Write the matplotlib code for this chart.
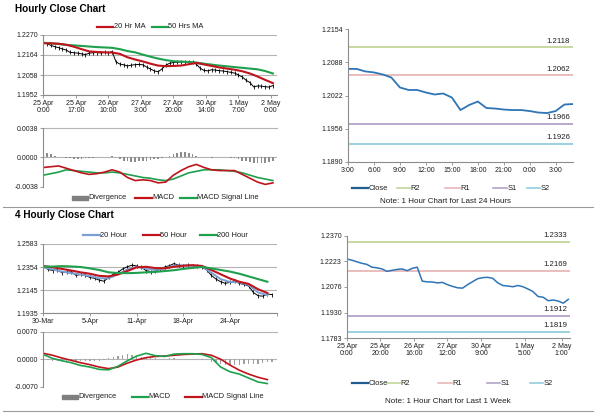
import numpy as np
import matplotlib
matplotlib.use("Agg")
import matplotlib.pyplot as plt
from matplotlib.lines import Line2D
from matplotlib.patches import Rectangle

W, H = 600, 413
plt.rcParams["font.family"] = ["Liberation Sans", "DejaVu Sans"]

RED = "#c0141c"
GREEN = "#1ea04e"
BLUE_MA = "#7b9fd3"
CLOSE_BLUE = "#2e75b6"
LEVEL_COLORS = {"R2": "#c3d69b", "R1": "#e6b9b8", "S1": "#b3a2c7", "S2": "#93cddd"}
AXIS_GRAY = "#8c8c8c"
GRID_GRAY = "#b4b4b4"
TXT = "#1e1e1e"
TICK_FS = 5.0
LEG_FS = 5.4

# ---------------- hourly close chart (top-left) ----------------
H_X_LABELS = ["25 Apr\n0:00", "25 Apr\n17:00", "26 Apr\n10:00", "27 Apr\n3:00",
              "27 Apr\n20:00", "30 Apr\n14:00", "1 May\n7:00", "2 May\n0:00"]
H_Y_LABELS = ["1.1952", "1.2058", "1.2164", "1.2270"]
h_close = [1.2229, 1.2224, 1.2215, 1.2208, 1.2203, 1.2196, 1.2190, 1.2178, 1.2176, 1.2174,
           1.2170, 1.2166, 1.2174, 1.2176, 1.2177, 1.2175, 1.2178, 1.2176, 1.2182, 1.2128,
           1.2116, 1.2112, 1.2106, 1.2110, 1.2113, 1.2114, 1.2112, 1.2100, 1.2090, 1.2080,
           1.2075, 1.2090, 1.2110, 1.2120, 1.2124, 1.2126, 1.2127, 1.2128, 1.2129, 1.2126,
           1.2115, 1.2094, 1.2082, 1.2080, 1.2086, 1.2084, 1.2081, 1.2079, 1.2076, 1.2072,
           1.2068, 1.2058, 1.2048, 1.2030, 1.2018, 1.1995, 1.2000, 1.1999, 1.1996, 1.1994,
           1.2002]
h_ma20 = [1.2226, 1.2226, 1.2224, 1.2218, 1.2208, 1.2195, 1.2183, 1.2180, 1.2178, 1.2177,
          1.2170, 1.2152, 1.2140, 1.2130, 1.2118, 1.2108, 1.2105, 1.2106, 1.2108, 1.2115,
          1.2122, 1.2114, 1.2106, 1.2098, 1.2092, 1.2086, 1.2078, 1.2066, 1.2050, 1.2032,
          1.2015]
h_ma50 = [1.2229, 1.2226, 1.2222, 1.2218, 1.2215, 1.2212, 1.2209, 1.2206, 1.2204, 1.2202,
          1.2195, 1.2185, 1.2178, 1.2166, 1.2155, 1.2145, 1.2137, 1.2131, 1.2129, 1.2127,
          1.2124, 1.2118, 1.2113, 1.2108, 1.2104, 1.2100, 1.2096, 1.2092, 1.2088, 1.2079,
          1.2066]
h_macd = [-0.0013, -0.0012, -0.0011, -0.0014, -0.0017, -0.0020, -0.0022, -0.0021, -0.0019, -0.0016,
          -0.0019, -0.0026, -0.0030, -0.0029, -0.0030, -0.0033, -0.0032, -0.0023, -0.0017, -0.0012,
          -0.0009, -0.0013, -0.0016, -0.0017, -0.0017, -0.0017, -0.0022, -0.0027, -0.0032, -0.0035,
          -0.0033]
h_signal = [-0.0023, -0.0021, -0.0019, -0.0016, -0.0017, -0.0018, -0.0019, -0.0020, -0.0020, -0.0019,
            -0.0020, -0.0022, -0.0024, -0.0026, -0.0027, -0.0029, -0.0030, -0.0028, -0.0024, -0.0020,
            -0.0018, -0.0016, -0.0016, -0.0016, -0.0017, -0.0018, -0.0020, -0.0023, -0.0026, -0.0028,
            -0.0030]
h_div = [0.0006, 0.0006, 0.0004, 0.0002, 0.0001, 0.0000, -0.0001, -0.0001, -0.0002, -0.0002,
         -0.0002, -0.0001, -0.0001, -0.0001, 0.0000, 0.0000, 0.0000, 0.0001, 0.0002, 0.0001,
         -0.0002, -0.0004, -0.0005, -0.0006, -0.0006, -0.0005, -0.0005, -0.0004, -0.0003, -0.0002,
         -0.0002, -0.0001, 0.0000, 0.0002, 0.0004, 0.0006, 0.0007, 0.0007, 0.0006, 0.0004,
         0.0002, 0.0001, 0.0000, 0.0000, -0.0001, 0.0000, 0.0000, 0.0000, 0.0000, -0.0001,
         -0.0001, -0.0002, -0.0004, -0.0005, -0.0006, -0.0007, -0.0007, -0.0007, -0.0007, -0.0006,
         -0.0004]

# ---------------- 4 hourly close chart (bottom-left) ----------------
F_X_LABELS = ["30-Mar", "5-Apr", "11-Apr", "18-Apr", "24-Apr", ""]
F_Y_LABELS = ["1.1935", "1.2145", "1.2354", "1.2583"]
f_close = [1.2380, 1.2345, 1.2335, 1.2340, 1.2315, 1.2320, 1.2322, 1.2290, 1.2298, 1.2290,
           1.2270, 1.2262, 1.2245, 1.2235, 1.2270, 1.2300, 1.2318, 1.2350, 1.2370, 1.2385,
           1.2378, 1.2365, 1.2335, 1.2325, 1.2330, 1.2346, 1.2368, 1.2380, 1.2400, 1.2385,
           1.2380, 1.2385, 1.2380, 1.2378, 1.2370, 1.2340, 1.2290, 1.2255, 1.2230, 1.2215,
           1.2225, 1.2240, 1.2215, 1.2205, 1.2190, 1.2130, 1.2100, 1.2095, 1.2115, 1.2110]
f_ma20 = [1.2365, 1.2345, 1.2325, 1.2310, 1.2298, 1.2283, 1.2262, 1.2262, 1.2300, 1.2345,
          1.2370, 1.2355, 1.2340, 1.2355, 1.2380, 1.2383, 1.2380, 1.2370, 1.2315, 1.2255,
          1.2228, 1.2225, 1.2200, 1.2130, 1.2105]
f_ma50 = [1.2377, 1.2365, 1.2350, 1.2335, 1.2318, 1.2305, 1.2285, 1.2280, 1.2298, 1.2330,
          1.2365, 1.2370, 1.2358, 1.2355, 1.2370, 1.2380, 1.2385, 1.2378, 1.2340, 1.2300,
          1.2260, 1.2230, 1.2210, 1.2160, 1.2125]
f_ma200 = [1.2370, 1.2372, 1.2376, 1.2373, 1.2368, 1.2355, 1.2340, 1.2318, 1.2312, 1.2310,
           1.2313, 1.2318, 1.2322, 1.2330, 1.2338, 1.2350, 1.2360, 1.2368, 1.2355, 1.2340,
           1.2325, 1.2305, 1.2280, 1.2255, 1.2230]
f_macd = [0.0012, 0.0002, -0.0004, -0.0009, -0.0016, -0.0020, -0.0026, -0.0027, -0.0018, -0.0004,
          0.0008, 0.0015, 0.0009, 0.0007, 0.0013, 0.0014, 0.0014, 0.0012, 0.0004, -0.0020,
          -0.0032, -0.0038, -0.0048, -0.0058, -0.0062]
f_signal = [0.0015, 0.0010, 0.0003, -0.0003, -0.0009, -0.0014, -0.0020, -0.0024, -0.0020, -0.0010,
            -0.0002, 0.0004, 0.0007, 0.0008, 0.0010, 0.0012, 0.0013, 0.0014, 0.0010, 0.0000,
            -0.0015, -0.0028, -0.0038, -0.0046, -0.0052]
f_div = [-0.0002, -0.0003, -0.0004, -0.0004, -0.0004, -0.0004, -0.0004, -0.0005, -0.0005, -0.0005,
         -0.0005, -0.0005, -0.0004, -0.0002, 0.0002, 0.0005, 0.0008, 0.0011, 0.0012, 0.0011,
         0.0009, 0.0006, 0.0004, 0.0003, 0.0002, 0.0001, 0.0001, 0.0002, 0.0002, 0.0001,
         0.0001, 0.0001, 0.0001, 0.0000, -0.0001, -0.0003, -0.0006, -0.0009, -0.0012, -0.0014,
         -0.0015, -0.0015, -0.0014, -0.0013, -0.0012, -0.0012, -0.0011, -0.0010, -0.0008, -0.0006]

# ---------------- 24 hour pivot chart (top-right) ----------------
D_X_LABELS = ["3:00", "6:00", "9:00", "12:00", "15:00", "18:00", "21:00", "0:00", "3:00"]
D_Y_LABELS = ["1.1890", "1.1956", "1.2022", "1.2088", "1.2154"]
d_close = [1.2075, 1.2075, 1.2070, 1.2068, 1.2064, 1.2058, 1.2038, 1.2033, 1.2033, 1.2028,
           1.2024, 1.2026, 1.2018, 1.1993, 1.2003, 1.2010, 1.1997, 1.1996, 1.1994, 1.1993,
           1.1993, 1.1991, 1.1988, 1.1987, 1.1991, 1.2004, 1.2005]
d_levels = {"R2": 1.2118, "R1": 1.2062, "S1": 1.1966, "S2": 1.1926}

# ---------------- 1 week pivot chart (bottom-right) ----------------
WK_X_TICKS = [0, 20, 40, 60, 80, 106, 128]
WK_X_LABELS = ["25 Apr\n0:00", "25 Apr\n20:00", "26 Apr\n16:00", "27 Apr\n12:00",
               "30 Apr\n9:00", "1 May\n5:00", "2 May\n1:00"]
WK_Y_LABELS = ["1.1783", "1.1930", "1.2076", "1.2223", "1.2370"]
wk_close = [1.2237, 1.2230, 1.2221, 1.2212, 1.2206, 1.2190, 1.2186, 1.2180, 1.2166, 1.2172,
            1.2177, 1.2180, 1.2170, 1.2183, 1.2190, 1.2110, 1.2106, 1.2105, 1.2100, 1.2103,
            1.2090, 1.2080, 1.2072, 1.2070, 1.2090, 1.2107, 1.2124, 1.2130, 1.2132, 1.2126,
            1.2100, 1.2085, 1.2082, 1.2078, 1.2085, 1.2078, 1.2065, 1.2050, 1.2022, 1.2018,
            1.1998, 1.2002, 1.1996, 1.1984, 1.2006]
wk_levels = {"R2": 1.2333, "R1": 1.2169, "S1": 1.1912, "S2": 1.1819}


def px_axes(fig, left, top, right, bottom):
    return fig.add_axes([left / W, 1 - bottom / H, (right - left) / W, (bottom - top) / H])


def base_style(ax, grid=False):
    for s in ["top", "right"]:
        ax.spines[s].set_visible(False)
    for s in ["left", "bottom"]:
        ax.spines[s].set_color(AXIS_GRAY)
        ax.spines[s].set_linewidth(0.8)
    ax.tick_params(labelsize=TICK_FS, labelcolor=TXT, length=2, width=0.6, pad=1.5,
                   color=AXIS_GRAY)
    if grid:
        ax.grid(axis="y", color=GRID_GRAY, lw=0.8)
        ax.set_axisbelow(True)


def leg_line(fig, x0, x1, y, label, color, lw=1.6):
    fig.add_artist(Line2D([x0 / W, x1 / W], [1 - y / H] * 2, color=color, lw=lw,
                          transform=fig.transFigure))
    fig.text((x1 + 0.5) / W, 1 - y / H, label, fontsize=LEG_FS, color=TXT, va="center", ha="left")


def leg_box(fig, x0, x1, y, label, color):
    fig.add_artist(Rectangle((x0 / W, 1 - (y + 2) / H), (x1 - x0) / W, 4 / H, color=color,
                             transform=fig.transFigure))
    fig.text((x1 + 0.5) / W, 1 - y / H, label, fontsize=LEG_FS, color=TXT, va="center", ha="left")


def macd_axes(ax, lim, labels):
    base_style(ax)
    ax.spines["bottom"].set_visible(False)
    ax.set_ylim(-lim, lim)
    ax.set_yticks([-lim, 0, lim])
    ax.set_yticklabels(labels)
    ax.set_xticks([])
    ax.axhline(0, color=GRID_GRAY, lw=0.8, zorder=0)
    ax.axhline(lim, color=GRID_GRAY, lw=0.8, zorder=0, clip_on=False)


def pivot_chart(ax, close, levels, ylo, yhi, ylabels):
    base_style(ax)
    ax.set_ylim(ylo, yhi)
    ax.set_yticks(np.linspace(ylo, yhi, len(ylabels)))
    ax.set_yticklabels(ylabels)
    for name, val in levels.items():
        ax.axhline(val, color=LEVEL_COLORS[name], lw=1.3)
        ax.annotate(f"{val:.4f}", xy=(1, val), xycoords=("axes fraction", "data"),
                    xytext=(-2, 2), textcoords="offset points", ha="right", va="bottom",
                    fontsize=5.6, color=TXT)


fig = plt.figure(figsize=(W / 100, H / 100), dpi=100)

# titles and separators
fig.text(15 / W, 1 - 9 / H, "Hourly Close Chart", fontsize=7.2, fontweight="bold", va="center")
fig.text(15 / W, 1 - 215 / H, "4 Hourly Close Chart", fontsize=7.2, fontweight="bold", va="center")
for ysep in [206.5, 411]:
    fig.add_artist(Line2D([3 / W, 593 / W], [1 - ysep / H] * 2, color="#9a9a9a", lw=0.8,
                          transform=fig.transFigure))

# --- hourly price
ax1 = px_axes(fig, 43.3, 35, 276.7, 95)
base_style(ax1, grid=True)
ax1.set_xlim(0, 122)
ax1.set_ylim(1.1952, 1.2270)
ax1.set_yticks(np.linspace(1.1952, 1.2270, 4))
ax1.set_yticklabels(H_Y_LABELS)
ax1.set_xticks(np.arange(0, 120, 17))
ax1.set_xticklabels(H_X_LABELS, linespacing=1.0)
xc = np.arange(len(h_close)) * 2
ax1.plot(xc, h_close, color="black", lw=0.7, marker="|", ms=2.2, mew=0.6)
xm = np.arange(len(h_ma50)) * 4
ax1.plot(xm, h_ma50, color=GREEN, lw=1.5)
ax1.plot(xm, h_ma20, color=RED, lw=1.5)
leg_line(fig, 96.7, 113.3, 27, "20 Hr MA", RED)
leg_line(fig, 152, 168, 27, "50 Hrs MA", GREEN)

# --- hourly MACD
ax2 = px_axes(fig, 43.3, 128.3, 276.7, 186.7)
macd_axes(ax2, 0.0038, ["-0.0038", "0.0000", "0.0038"])
ax2.set_xlim(0, 122)
ax2.bar(np.arange(len(h_div)) * 2, h_div, width=0.9, color="#8c8c8c")
xm = np.arange(len(h_macd)) * 4
ax2.plot(xm, h_signal, color=GREEN, lw=1.2)
ax2.plot(xm, h_macd, color=RED, lw=1.2)
leg_box(fig, 71.7, 88.3, 197.7, "Divergence", "#7f7f7f")
leg_line(fig, 135, 151.7, 197.7, "MACD", RED)
leg_line(fig, 180, 196.7, 197.7, "MACD Signal Line", GREEN)

# --- 24 hour pivot chart
ax3 = px_axes(fig, 348, 29.3, 573, 161.7)
pivot_chart(ax3, d_close, d_levels, 1.1890, 1.2154, D_Y_LABELS)
ax3.set_xlim(0, len(d_close) - 1)
ax3.set_xticks(np.arange(0, 25, 3))
ax3.set_xticklabels(D_X_LABELS)
ax3.plot(np.arange(len(d_close)), d_close, color=CLOSE_BLUE, lw=1.3)
leg_line(fig, 351.7, 368.3, 188.3, "Close", "#1f5c8f")
leg_line(fig, 396.7, 410, 188.3, "R2", LEVEL_COLORS["R2"], lw=1.2)
leg_line(fig, 445, 460, 188.3, "R1", LEVEL_COLORS["R1"], lw=1.2)
leg_line(fig, 493, 507, 188.3, "S1", LEVEL_COLORS["S1"], lw=1.2)
leg_line(fig, 527, 540, 188.3, "S2", LEVEL_COLORS["S2"], lw=1.2)
fig.text(445 / W, 1 - 201.7 / H, "Note: 1 Hour Chart for Last 24 Hours", fontsize=5.8,
         color=TXT, ha="center", va="center")

# --- 4 hourly price
ax4 = px_axes(fig, 43.3, 244, 276.7, 313.3)
base_style(ax4, grid=True)
ax4.set_xlim(0, 150)
ax4.set_ylim(1.1935, 1.2583)
ax4.set_yticks(np.linspace(1.1935, 1.2583, 4))
ax4.set_yticklabels(F_Y_LABELS)
ax4.set_xticks(np.arange(0, 151, 30))
ax4.set_xticklabels(F_X_LABELS)
ax4.plot(np.arange(len(f_close)) * 3, f_close, color="black", lw=0.7, marker="|", ms=2.2, mew=0.6)
xm = np.arange(len(f_ma20)) * 6
ax4.plot(xm, f_ma20, color=BLUE_MA, lw=1.4)
ax4.plot(xm, f_ma50, color=RED, lw=1.5)
ax4.plot(xm, f_ma200, color=GREEN, lw=1.5)
leg_line(fig, 83.3, 100, 235, "20 Hour", BLUE_MA)
leg_line(fig, 143.3, 160, 235, "50 Hour", RED)
leg_line(fig, 200, 216.7, 235, "200 Hour", GREEN)

# --- 4 hourly MACD
ax5 = px_axes(fig, 43.3, 331.7, 276.7, 386.7)
macd_axes(ax5, 0.0070, ["-0.0070", "0.0000", "0.0070"])
ax5.set_xlim(0, 150)
ax5.bar(np.arange(len(f_div)) * 3, f_div, width=1.0, color="#a0a0a0")
xm = np.arange(len(f_macd)) * 6
ax5.plot(xm, f_signal, color=RED, lw=1.2)
ax5.plot(xm, f_macd, color=GREEN, lw=1.2)
leg_box(fig, 61.7, 78.3, 396.7, "Divergence", "#7f7f7f")
leg_line(fig, 131.7, 148.3, 396.7, "MACD", GREEN)
leg_line(fig, 185, 201.7, 396.7, "MACD Signal Line", RED)

# --- 1 week pivot chart
ax6 = px_axes(fig, 346.7, 235.7, 570, 338.3)
pivot_chart(ax6, wk_close, wk_levels, 1.1783, 1.2370, WK_Y_LABELS)
ax6.set_xlim(0, 133)
ax6.set_xticks(WK_X_TICKS)
ax6.set_xticklabels(WK_X_LABELS, linespacing=1.0)
ax6.plot(np.arange(len(wk_close)) * 3, wk_close, color=CLOSE_BLUE, lw=1.1)
leg_line(fig, 351.7, 368.3, 383.3, "Close", "#1f5c8f")
leg_line(fig, 386.7, 400, 383.3, "R2", LEVEL_COLORS["R2"], lw=1.2)
leg_line(fig, 438, 451.7, 383.3, "R1", LEVEL_COLORS["R1"], lw=1.2)
leg_line(fig, 486.7, 500, 383.3, "S1", LEVEL_COLORS["S1"], lw=1.2)
leg_line(fig, 530, 543, 383.3, "S2", LEVEL_COLORS["S2"], lw=1.2)
fig.text(447.5 / W, 1 - 401.7 / H, "Note: 1 Hour Chart for Last 1 Week", fontsize=5.8,
         color=TXT, ha="center", va="center")

fig.savefig("out.png", dpi=100)
